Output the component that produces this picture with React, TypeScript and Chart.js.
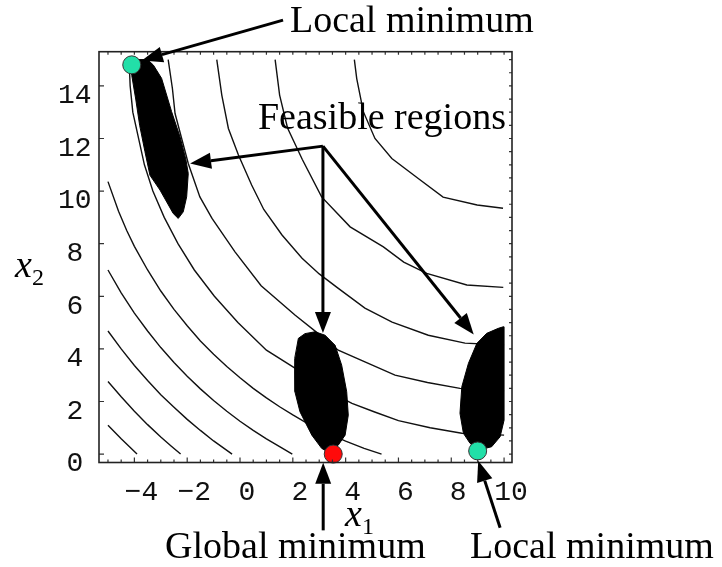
import React, { useEffect, useRef } from 'react';
import { Chart, registerables } from 'chart.js';

Chart.register(...registerables);

// ---------- axes ----------
const X_MIN = -5.34;
const X_MAX = 10.3;
const Y_MIN = -0.32;
const Y_MAX = 15.3;
const X_TICKS = [-4, -2, 0, 2, 4, 6, 8, 10];
const Y_TICKS = [0, 2, 4, 6, 8, 10, 12, 14];

// ---------- contour lines (outer -> inner) ----------
const CONTOUR_1 = [[-5, 1.1], [-4.5, 0.58], [-3.9, 0]];
const CONTOUR_2 = [[-5, 2.76], [-4.5, 2.18], [-4, 1.63], [-3.5, 1.12], [-3, 0.65], [-2.6, 0.3], [-2.25, 0]];
const CONTOUR_3 = [[-5, 4.68], [-4.5, 4.0], [-4, 3.37], [-3.5, 2.8], [-3, 2.26], [-2.5, 1.78], [-2, 1.32], [-1.5, 0.9], [-1, 0.5], [-0.3, 0]];
const CONTOUR_4 = [[-5, 7.0], [-4.5, 6.13], [-4, 5.36], [-3.5, 4.68], [-3, 4.05], [-2.5, 3.48], [-2, 2.96], [-1.5, 2.48], [-1, 2.04], [-0.5, 1.63], [0, 1.25], [0.5, 0.9], [1, 0.58], [1.5, 0.28], [1.98, 0]];
const CONTOUR_5 = [[-5, 10.36], [-4.6, 9.23], [-4.29, 8.5], [-4, 7.9], [-3.5, 7.0], [-3, 6.2], [-2.5, 5.5], [-2, 4.88], [-1.5, 4.3], [-1, 3.8], [-0.5, 3.33], [0, 2.9], [0.5, 2.5], [1, 2.14], [1.5, 1.8], [2, 1.49], [2.5, 1.2], [3, 0.95], [3.5, 0.71], [4, 0.49], [4.7, 0.22], [5.36, 0]];
const CONTOUR_6 = [[-4.2, 15.0], [-4.16, 14.0], [-4.06, 13.0], [-3.62, 11.0], [-3.3, 10.0], [-2.87, 9.0], [-2.35, 8.0], [-1.73, 7.0], [-0.97, 6.0], [-0.08, 5.0], [1.0, 3.95], [2.08, 3.27], [3.2, 2.47], [4.24, 1.93], [5.1, 1.6], [6.0, 1.27], [7.2, 1.0], [8.4, 0.79], [10, 0.72]];
const CONTOUR_7 = [[-2.72, 15.0], [-2.56, 13.9], [-2.46, 12.95], [-1.96, 11.05], [-1.52, 9.78], [-1.06, 8.96], [-0.19, 7.69], [0.8, 6.4], [2.08, 5.29], [3.0, 4.55], [3.72, 3.95], [4.73, 3.51], [5.87, 3.0], [7.1, 2.72], [8.33, 2.5], [10, 2.4]];
const CONTOUR_8 = [[-0.88, 15.0], [-0.69, 13.65], [-0.44, 12.38], [-0.06, 11.37], [0.44, 10.23], [0.9, 9.3], [1.59, 8.33], [2.35, 7.45], [3.0, 6.85], [3.71, 6.31], [4.73, 5.55], [5.76, 5.02], [7.13, 4.52], [8.52, 4.22], [10, 4.15]];
const CONTOUR_9 = [[1.33, 15.0], [1.5, 13.65], [1.8, 12.4], [2.36, 11.2], [3.09, 9.78], [4.17, 8.64], [5.43, 7.88], [6.2, 7.3], [7.07, 6.87], [8.59, 6.43], [9.97, 6.34]];
const CONTOUR_10 = [[4.33, 15.0], [4.42, 14.28], [4.67, 13.02], [5.11, 12.0], [5.75, 11.24], [6.75, 10.48], [7.69, 9.77], [8.98, 9.47], [9.96, 9.35]];
const CONTOURS = [CONTOUR_1, CONTOUR_2, CONTOUR_3, CONTOUR_4, CONTOUR_5, CONTOUR_6, CONTOUR_7, CONTOUR_8, CONTOUR_9, CONTOUR_10];

// ---------- feasible regions (closed outlines) ----------
const REGION_UPPER_LEFT = [[-4.2, 15.0], [-3.5, 15.0], [-3.28, 14.79], [-2.97, 14.29], [-2.59, 13.02], [-2.27, 12.06], [-2.05, 11.2], [-1.96, 10.67], [-2.02, 9.78], [-2.15, 9.21], [-2.34, 8.96], [-2.53, 9.15], [-3.03, 10.04], [-3.41, 10.6], [-3.6, 11.5], [-3.8, 12.5], [-3.95, 13.5], [-4.1, 14.4], [-4.2, 15.0]];
const REGION_MIDDLE = [[2.84, 4.65], [3.22, 4.52], [3.6, 4.14], [3.85, 3.38], [4.04, 2.37], [4.1, 1.48], [3.98, 0.72], [3.72, 0.34], [3.41, 0.03], [3.09, 0.22], [2.72, 0.72], [2.46, 1.23], [2.27, 1.61], [2.08, 2.37], [2.06, 3.1], [2.08, 3.64], [2.21, 4.4], [2.46, 4.58], [2.84, 4.65]];
const REGION_RIGHT = [[9.97, 4.84], [9.78, 4.78], [9.34, 4.59], [8.97, 4.21], [8.65, 3.45], [8.4, 2.56], [8.33, 1.55], [8.46, 0.79], [8.71, 0.41], [9.03, 0.15], [9.53, 0.28], [9.85, 0.66], [10.0, 1.29], [10.0, 2.81], [10.0, 4.84], [9.97, 4.84]];
const REGIONS = [REGION_UPPER_LEFT, REGION_MIDDLE, REGION_RIGHT];

// ---------- optima ----------
const OPTIMA_X = [-4.1, 3.53, 9.0];
const OPTIMA_Y = [14.8, 0.0, 0.12];
const OPTIMA_COLORS = ['#22dfa8', '#ff0a0a', '#22dfa8'];

// ---------- annotations (data coordinates) ----------
const LABELS = [
  { text: 'Local minimum', x: 1.89, y: 16.05 },
  { text: 'Feasible regions', x: 0.68, y: 12.36 },
  { text: 'Global minimum', x: -2.84, y: -3.95 },
  { text: 'Local minimum', x: 8.71, y: -3.95 },
];
const ARROWS = [
  { from: [1.63, 16.5], to: [-3.72, 14.97] },
  { from: [3.14, 11.71], to: [-1.89, 11.05] },
  { from: [3.14, 11.71], to: [3.14, 4.6] },
  { from: [3.14, 11.71], to: [8.85, 4.55] },
  { from: [3.15, -2.9], to: [3.15, -0.33] },
  { from: [9.85, -2.8], to: [9.02, -0.25] },
];
const AXIS_TITLES = [
  { main: 'x', sub: '1', x: 3.98, y: -2.75 },
  { main: 'x', sub: '2', x: -8.52, y: 6.73 },
];

const MONO = "'Liberation Mono', 'Courier New', monospace";
const SERIF = "'Liberation Serif', 'Times New Roman', serif";

const toPts = (arr: number[][]) => arr.map(([x, y]) => ({ x, y }));
const fmt = (v: number) => (v < 0 ? '\u2212' + Math.abs(v) : String(v));

function drawArrow(ctx: CanvasRenderingContext2D, x0: number, y0: number, x1: number, y1: number) {
  const hl = 21;
  const hw = 8;
  const a = Math.atan2(y1 - y0, x1 - x0);
  const bx = x1 - hl * Math.cos(a);
  const by = y1 - hl * Math.sin(a);
  ctx.beginPath();
  ctx.moveTo(x0, y0);
  ctx.lineTo(bx, by);
  ctx.stroke();
  ctx.beginPath();
  ctx.moveTo(x1, y1);
  ctx.lineTo(bx + hw * Math.sin(a), by - hw * Math.cos(a));
  ctx.lineTo(bx - hw * Math.sin(a), by + hw * Math.cos(a));
  ctx.closePath();
  ctx.fill();
}

const regionFill = {
  id: 'regionFill',
  afterDatasetDraw(chart: any, args: any) {
    const ds = chart.data.datasets[args.index];
    if (!ds.isRegion) return;
    const pts = args.meta.data;
    const ctx = chart.ctx;
    ctx.save();
    ctx.fillStyle = '#000';
    ctx.beginPath();
    pts.forEach((p: any, i: number) => (i === 0 ? ctx.moveTo(p.x, p.y) : ctx.lineTo(p.x, p.y)));
    ctx.closePath();
    ctx.fill();
    ctx.restore();
  },
};

const overlay = {
  id: 'overlay',
  afterDraw(chart: any) {
    const ctx = chart.ctx;
    const xs = chart.scales.x;
    const ys = chart.scales.y;
    const X = (v: number) => xs.getPixelForValue(v);
    const Y = (v: number) => ys.getPixelForValue(v);
    const { left, right, top, bottom } = chart.chartArea;
    ctx.save();
    // tick marks pointing inward
    ctx.strokeStyle = '#333';
    ctx.lineWidth = 1.2;
    ctx.beginPath();
    for (let v = -5; v <= 10.001; v += 0.5) {
      const p = X(v);
      const major = Math.abs(v % 2) < 1e-6;
      ctx.moveTo(p, bottom);
      ctx.lineTo(p, bottom - (major ? 5 : 3));
      ctx.moveTo(p, top);
      ctx.lineTo(p, top + 3);
    }
    for (let v = 0; v <= 15.001; v += 0.5) {
      const p = Y(v);
      ctx.moveTo(right, p);
      ctx.lineTo(right - 3, p);
    }
    for (const v of Y_TICKS) {
      const p = Y(v);
      ctx.moveTo(left, p);
      ctx.lineTo(left + 5, p);
    }
    ctx.stroke();
    // frame
    ctx.lineWidth = 1.6;
    ctx.strokeStyle = '#222';
    ctx.strokeRect(left, top, right - left, bottom - top);
    // arrows
    ctx.strokeStyle = '#000';
    ctx.fillStyle = '#000';
    ctx.lineWidth = 3;
    ctx.lineJoin = 'round';
    for (const a of ARROWS) {
      drawArrow(ctx, X(a.from[0]), Y(a.from[1]), X(a.to[0]), Y(a.to[1]));
    }
    // labels
    ctx.textBaseline = 'alphabetic';
    ctx.textAlign = 'left';
    ctx.font = `38px ${SERIF}`;
    for (const l of LABELS) ctx.fillText(l.text, X(l.x), Y(l.y));
    for (const t of AXIS_TITLES) {
      const px = X(t.x);
      const py = Y(t.y);
      ctx.font = `italic 38px ${SERIF}`;
      ctx.fillText(t.main, px, py);
      const w = ctx.measureText(t.main).width;
      ctx.font = `24px ${SERIF}`;
      ctx.fillText(t.sub, px + w, py + 8);
    }
    ctx.restore();
  },
};

export default function App() {
  const ref = useRef<HTMLCanvasElement>(null);
  useEffect(() => {
    if (!ref.current) return;
    const datasets: any[] = [];
    CONTOURS.forEach((c) =>
      datasets.push({
        data: toPts(c),
        showLine: true,
        borderColor: '#111',
        borderWidth: 1.4,
        pointRadius: 0,
        fill: false,
        order: 3,
      })
    );
    REGIONS.forEach((r) =>
      datasets.push({
        data: toPts(r),
        isRegion: true,
        showLine: true,
        borderColor: '#000',
        borderWidth: 1,
        pointRadius: 0,
        fill: false,
        order: 2,
      })
    );
    datasets.push({
      data: OPTIMA_X.map((x, i) => ({ x, y: OPTIMA_Y[i] })),
      showLine: false,
      pointRadius: 9,
      pointBorderWidth: 1,
      pointBorderColor: '#333',
      pointBackgroundColor: OPTIMA_COLORS,
      clip: false,
      order: 1,
    });
    const chart = new Chart(ref.current, {
      type: 'scatter',
      data: { datasets },
      plugins: [regionFill, overlay],
      options: {
        animation: false,
        responsive: true,
        maintainAspectRatio: false,
        events: [],
        layout: { padding: { left: 0, top: 51.7, right: 210, bottom: 0 } },
        plugins: { legend: { display: false }, tooltip: { enabled: false } },
        scales: {
          x: {
            type: 'linear',
            position: 'bottom',
            min: X_MIN,
            max: X_MAX,
            grid: { display: false, drawTicks: false },
            border: { display: false },
            afterBuildTicks: (s: any) => {
              s.ticks = X_TICKS.map((v) => ({ value: v }));
            },
            afterFit: (s: any) => {
              s.height = 104.5;
            },
            ticks: {
              autoSkip: false,
              maxRotation: 0,
              minRotation: 0,
              padding: 13,
              labelOffset: 7,
              color: '#111',
              font: { family: MONO, size: 28 },
              callback: (v: any) => fmt(Number(v)),
            },
          },
          y: {
            type: 'linear',
            position: 'left',
            min: Y_MIN,
            max: Y_MAX,
            grid: { display: false, drawTicks: false },
            border: { display: false },
            afterBuildTicks: (s: any) => {
              s.ticks = Y_TICKS.map((v) => ({ value: v }));
            },
            afterFit: (s: any) => {
              s.width = 99;
            },
            ticks: {
              autoSkip: false,
              crossAlign: 'center',
              padding: 7.4,
              labelOffset: 10,
              color: '#111',
              font: { family: MONO, size: 28 },
              callback: (v: any) => fmt(Number(v)),
            },
          },
        },
      } as any,
    });
    return () => chart.destroy();
  }, []);
  return (
    <div style={{ position: 'fixed', left: 0, top: 0, width: 722, height: 567, background: '#fff' }}>
      <canvas ref={ref} />
    </div>
  );
}
